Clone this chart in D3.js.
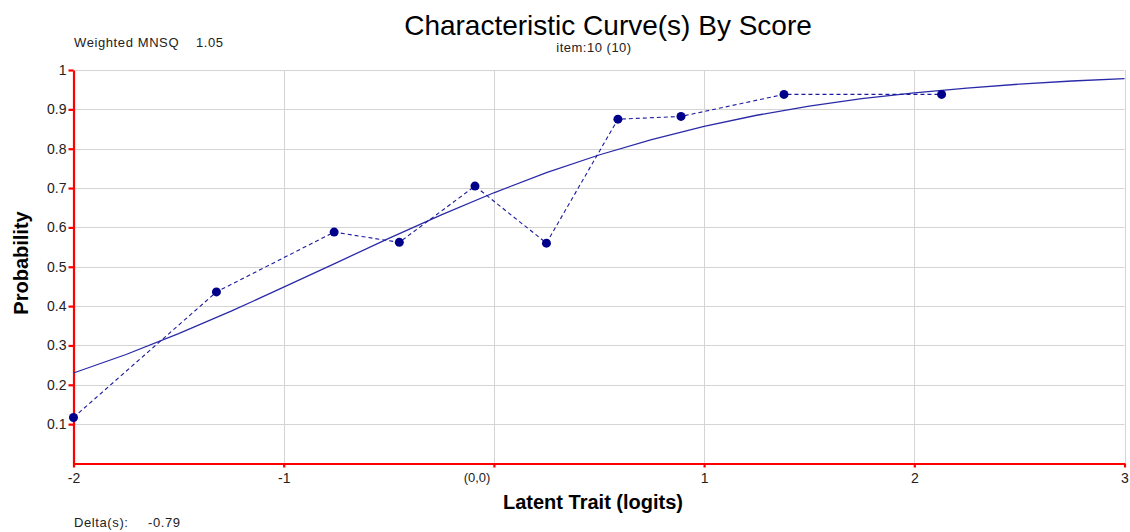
<!DOCTYPE html>
<html>
<head>
<meta charset="utf-8">
<script src="https://cdn.jsdelivr.net/npm/d3@7/dist/d3.min.js"></script>
<style>
  html, body { margin: 0; padding: 0; background: #fff; }
  svg { display: block; font-family: "Liberation Sans", Arial, sans-serif; }
</style>
</head>
<body>
<svg id="chart" width="1130" height="532"></svg>
<script>
// Observed proportions by score group (ability in logits, proportion)
const observedTheta = [-2.0, -1.32, -0.76, -0.45, -0.09, 0.25, 0.59, 0.89, 1.38, 2.13];
const observedProb  = [0.117, 0.436, 0.588, 0.562, 0.705, 0.560, 0.875, 0.882, 0.938, 0.938];

// Expected (model) curve
const modelTheta = [-2.0, -1.75, -1.5, -1.25, -1.0, -0.75, -0.5, -0.25, 0.0, 0.25, 0.5,
                    0.75, 1.0, 1.25, 1.5, 1.75, 2.0, 2.25, 2.5, 2.75, 3.0];
const modelProb  = [0.230, 0.277, 0.330, 0.387, 0.448, 0.510, 0.572, 0.632, 0.688, 0.739, 0.784,
                    0.823, 0.857, 0.885, 0.908, 0.927, 0.942, 0.954, 0.964, 0.972, 0.978];

const xTicks = [-2, -1, 0, 1, 2, 3];
const yTicks = [0.1, 0.2, 0.3, 0.4, 0.5, 0.6, 0.7, 0.8, 0.9, 1.0];

const titleText = "Characteristic Curve(s) By Score";
const subtitleText = "item:10 (10)";
const fitLabel = "Weighted MNSQ";
const fitValue = "1.05";
const deltaLabel = "Delta(s):";
const deltaValue = "-0.79";
const xTitle = "Latent Trait (logits)";
const yTitle = "Probability";

const svg = d3.select("#chart");
const plot = { left: 73.5, right: 1124.5, top: 70, bottom: 463.5 };

const x = d3.scaleLinear().domain([-2, 3]).range([plot.left, plot.right]);
const y = d3.scaleLinear().domain([0, 1]).range([plot.bottom, plot.top]);

// Grid
const grid = svg.append("g").attr("stroke", "#d4d4d4").attr("stroke-width", 1);
grid.selectAll("line.h").data(yTicks).join("line")
  .attr("x1", plot.left).attr("x2", plot.right)
  .attr("y1", d => Math.round(y(d)) + 0.5).attr("y2", d => Math.round(y(d)) + 0.5);
grid.selectAll("line.v").data(xTicks.filter(d => d !== -2)).join("line")
  .attr("x1", d => Math.round(x(d)) + 0.5).attr("x2", d => Math.round(x(d)) + 0.5)
  .attr("y1", plot.top).attr("y2", plot.bottom);

// Axes
const xAxis = svg.append("g")
  .attr("transform", `translate(0,${plot.bottom})`)
  .call(d3.axisBottom(x).tickValues(xTicks).tickSize(4).tickSizeOuter(0)
    .tickFormat(d => d === 0 ? "(0,0)" : String(d)));
const yAxis = svg.append("g")
  .attr("transform", `translate(${plot.left},0)`)
  .call(d3.axisLeft(y).tickValues(yTicks).tickSize(5).tickSizeOuter(0)
    .tickFormat(d => d3.format("~g")(d)));

[xAxis, yAxis].forEach(a => {
  a.select(".domain").attr("stroke", "#ff0000").attr("stroke-width", 2.2);
  a.selectAll(".tick line").attr("stroke", "#ff0000").attr("stroke-width", 2.2);
  a.selectAll(".tick text").attr("fill", "#222").style("font-size", "14px")
    .style("font-family", "\"Liberation Sans\", Arial, sans-serif");
});
xAxis.selectAll(".tick text").attr("dy", "0.9em").attr("y", 7);
xAxis.selectAll(".tick").filter(d => d === 0).select("text")
  .attr("text-anchor", "end").attr("dx", -4).style("font-size", "13px");
yAxis.selectAll(".tick text").attr("x", -7);

// Model curve
const line = d3.line().x(d => x(d[0])).y(d => y(d[1]));
svg.append("path")
  .datum(d3.zip(modelTheta, modelProb))
  .attr("fill", "none").attr("stroke", "#2a2aa8").attr("stroke-width", 1.3)
  .attr("d", line);

// Observed
const obs = d3.zip(observedTheta, observedProb);
svg.append("path")
  .datum(obs)
  .attr("fill", "none").attr("stroke", "#1a1a9c").attr("stroke-width", 1.1)
  .attr("stroke-dasharray", "4,3")
  .attr("d", line);
svg.append("g").selectAll("circle").data(obs).join("circle")
  .attr("cx", d => x(d[0])).attr("cy", d => y(d[1])).attr("r", 4.5)
  .attr("fill", "#00008b");

// Text
svg.append("text").attr("x", 608).attr("y", 35).attr("text-anchor", "middle")
  .style("font-size", "28px").attr("fill", "#000").text(titleText);
svg.append("text").attr("x", 594).attr("y", 52).attr("text-anchor", "middle")
  .style("font-size", "13px").style("letter-spacing", "0.5px").attr("fill", "#222").text(subtitleText);

const small = (tx, ty, str) => svg.append("text").attr("x", tx).attr("y", ty)
  .style("font-size", "13px").style("letter-spacing", "0.6px").attr("fill", "#222").text(str);
small(74, 47, fitLabel);
small(196, 47, fitValue);
small(74, 527, deltaLabel);
small(148, 527, deltaValue);

svg.append("text").attr("x", 593).attr("y", 509).attr("text-anchor", "middle")
  .style("font-size", "20px").style("font-weight", "bold").attr("fill", "#000").text(xTitle);
svg.append("text").attr("transform", "translate(28,263) rotate(-90)").attr("text-anchor", "middle")
  .style("font-size", "20px").style("font-weight", "bold").attr("fill", "#000").text(yTitle);
</script>
</body>
</html>
